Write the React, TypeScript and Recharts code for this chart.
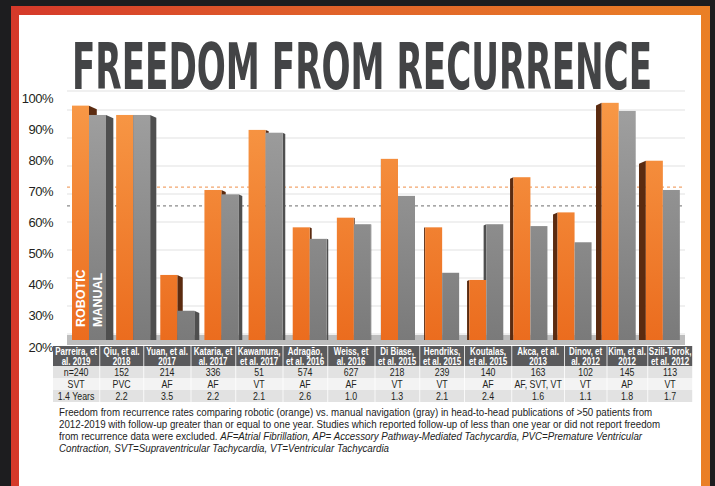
import React from "react";
import {
  BarChart,
  Bar,
  XAxis,
  YAxis,
  CartesianGrid,
  ReferenceLine,
  LabelList,
} from "recharts";

// Studies (table header, two lines each)
const studies = [
  "Parreira, et\nal. 2019",
  "Qiu, et al.\n2018",
  "Yuan, et al.\n2017",
  "Kataria, et\nal. 2017",
  "Kawamura,\net al. 2017",
  "Adragão,\net al. 2016",
  "Weiss, et\nal. 2016",
  "Di Biase,\net al. 2015",
  "Hendriks,\net al. 2015",
  "Koutalas,\net al. 2015",
  "Akca, et al.\n2013",
  "Dinov, et\nal. 2012",
  "Kim, et al.\n2012",
  "Szili-Torok,\net al. 2012",
];

// Freedom from recurrence (%)
const robotic = [95.3, 92.3, 40.9, 68.2, 87.5, 56.2, 59.3, 78.2, 56.2, 39.3, 72.3, 61.0, 96.2, 77.6];
const manual = [92.3, 92.3, 29.4, 66.8, 86.6, 52.5, 57.2, 66.3, 41.6, 57.2, 56.6, 51.4, 93.6, 68.2];

// dashed average lines
const roboticMean = 69.1;
const manualMean = 63.1;

// table rows
const patients = ["n=240", "152", "214", "336", "51", "574", "627", "218", "239", "140", "163", "102", "145", "113"];
const arrhythmias = ["SVT", "PVC", "AF", "AF", "VT", "AF", "AF", "VT", "VT", "AF", "AF, SVT, VT", "VT", "AP", "VT"];
const followUp = ["1.4 Years", "2.2", "3.5", "2.2", "2.1", "2.6", "1.0", "1.3", "2.1", "2.4", "1.6", "1.1", "1.8", "1.7"];

const valueTicks = [20, 30, 40, 50, 60, 70, 80, 90, 100];
// the gridlines sit on the back wall of the 3D chart, so they use a slightly different scale
const wallDomain = [17.86, 106.79];

const chartData = studies.map((s, i) => ({ study: s, robotic: robotic[i], manual: manual[i] }));

const CHART_W = 715;
const CHART_H = 360;
const MARGIN = { top: 91, right: 30, bottom: 10, left: 0 };

// table column widths (px), the Akca column is a bit wider
const colWidths = [47, 44, 47, 45, 47, 45, 47, 45, 45, 47, 53, 42, 41, 45];
const TABLE_SCALE = 0.8;

const VANISH_X = 385;
const sideDepth = (edge: number) => Math.min(9, Math.abs(edge - VANISH_X) / 38);

const make3DBar = (series: "robotic" | "manual") => (props: any) => {
  const { x, y, width, height, payload } = props;
  if (!height || height <= 0) return <g />;
  const front = series === "robotic" ? "url(#roboticFront)" : "url(#manualFront)";
  const sideFill = series === "robotic" ? "#5b2b10" : "#4f4f4f";
  const bottom = y + height;
  let side = null;
  if (x + width / 2 < VANISH_X) {
    const e = x + width;
    const d = sideDepth(e);
    side = (
      <polygon
        points={`${e},${y} ${e + d},${y + d * 0.45} ${e + d},${bottom} ${e},${bottom}`}
        fill={sideFill}
      />
    );
  } else {
    const e = x;
    const d = sideDepth(e);
    let stop = bottom;
    if (series === "manual") {
      // only the part standing above the orange bar is visible
      const per = height / (payload.manual - 20);
      stop = Math.min(bottom, bottom - (payload.robotic - 20) * per);
    }
    if (stop > y + d * 0.45) {
      side = (
        <polygon
          points={`${e},${y} ${e - d},${y + d * 0.45} ${e - d},${stop} ${e},${stop}`}
          fill={sideFill}
        />
      );
    }
  }
  return (
    <g>
      {side}
      <rect x={x} y={y} width={width} height={height} fill={front} />
    </g>
  );
};

const legendLabel = (text: string) => (props: any) => {
  if (props.index !== 0) return null;
  const vb = props.viewBox || props;
  const cx = vb.x + vb.width / 2;
  const by = vb.y + vb.height - 13;
  return (
    <text
      x={cx}
      y={by}
      dy="0.36em"
      transform={`rotate(-90 ${cx} ${by})`}
      fill="#ffffff"
      fontWeight="bold"
      fontSize={12.5}
      fontFamily="'Liberation Sans', Arial, sans-serif"
    >
      {text}
    </text>
  );
};

const PercentTick = (props: any) => {
  const { x, y, payload } = props;
  return (
    <text
      x={x - 6}
      y={y + 7}
      dy="0.35em"
      textAnchor="end"
      fontSize={13}
      letterSpacing={-0.5}
      fill="#231f20"
      fontFamily="'Liberation Sans', Arial, sans-serif"
    >
      {payload.value}%
    </text>
  );
};

const rowStyle = (bg: string, h: number): React.CSSProperties => ({
  display: "flex",
  background: bg,
  height: h,
  lineHeight: `${h}px`,
  fontSize: 11,
  color: "#231f20",
});

const cellStyle = (i: number): React.CSSProperties => ({
  width: colWidths[i] / TABLE_SCALE,
  flex: "none",
  boxSizing: "border-box",
  textAlign: "center",
  borderRight: "1px solid #ffffff",
  whiteSpace: "nowrap",
  overflow: "visible",
});

export default function App() {
  return (
    <div
      style={{
        position: "absolute",
        left: 0,
        top: 0,
        width: 715,
        height: 486,
        overflow: "hidden",
        background: "#1d1d1f",
        fontFamily: "'Liberation Sans', Arial, sans-serif",
      }}
    >
      {/* gradient frame */}
      <div
        style={{
          position: "absolute",
          left: 11,
          top: 6,
          width: 699,
          height: 480,
          background: "linear-gradient(90deg, #d5392a 0%, #e0612a 45%, #ea7f26 100%)",
        }}
      />
      <div style={{ position: "absolute", left: 19, top: 15, width: 682, height: 471, background: "#ffffff" }} />

      {/* title: a tall, narrow headline */}
      <div
        style={{
          position: "absolute",
          left: 72,
          top: 35,
          width: 600,
          fontFamily: "'DejaVu Sans Condensed', 'DejaVu Sans', sans-serif",
          fontWeight: "bold",
          fontSize: 38,
          lineHeight: "38px",
          color: "#434446",
          whiteSpace: "nowrap",
          transform: "scaleY(1.7)",
          transformOrigin: "0 0",
        }}
      >
        FREEDOM FROM RECURRENCE
      </div>

      {/* back layer: wall gridlines, average lines, floor and value axis */}
      <div style={{ position: "absolute", left: 0, top: 0 }}>
        <BarChart width={CHART_W} height={CHART_H} data={chartData} margin={MARGIN} barSize={17} barGap={0}>
          <YAxis yAxisId="wall" hide domain={wallDomain} ticks={valueTicks} allowDataOverflow />
          <CartesianGrid yAxisId="wall" vertical={false} stroke="#e2e2e2" strokeWidth={1.2} />
          <XAxis
            dataKey="study"
            tick={false}
            tickLine={false}
            height={10}
            axisLine={{ stroke: "#bdbdbd", strokeWidth: 10 }}
          />
          <YAxis
            domain={[20, 100]}
            ticks={valueTicks}
            width={67}
            axisLine={false}
            tickLine={false}
            tick={<PercentTick />}
            allowDataOverflow
          />
          <ReferenceLine y={roboticMean} stroke="#f2a56e" strokeDasharray="3 3" strokeWidth={1.2} />
          <ReferenceLine y={manualMean} stroke="#8a8a8a" strokeDasharray="3 3" strokeWidth={1.2} />
        </BarChart>
      </div>

      {/* front layer: the bars */}
      <div style={{ position: "absolute", left: 0, top: 0 }}>
        <BarChart width={CHART_W} height={CHART_H} data={chartData} margin={MARGIN} barSize={17} barGap={0}>
          <defs>
            <linearGradient id="roboticFront" gradientUnits="userSpaceOnUse" x1="0" y1="91" x2="0" y2="340">
              <stop offset="0%" stopColor="#f89a48" />
              <stop offset="100%" stopColor="#eb6c1e" />
            </linearGradient>
            <linearGradient id="manualFront" gradientUnits="userSpaceOnUse" x1="0" y1="91" x2="0" y2="340">
              <stop offset="0%" stopColor="#a2a2a2" />
              <stop offset="100%" stopColor="#7a7a7a" />
            </linearGradient>
          </defs>
          <XAxis dataKey="study" tick={false} tickLine={false} axisLine={false} height={10} />
          <YAxis domain={[20, 100]} width={67} tick={false} tickLine={false} axisLine={false} allowDataOverflow />
          <Bar dataKey="robotic" shape={make3DBar("robotic")} isAnimationActive={false}>
            <LabelList dataKey="robotic" content={legendLabel("ROBOTIC")} />
          </Bar>
          <Bar dataKey="manual" shape={make3DBar("manual")} isAnimationActive={false}>
            <LabelList dataKey="manual" content={legendLabel("MANUAL")} />
          </Bar>
        </BarChart>
      </div>

      {/* study table */}
      <div
        style={{
          position: "absolute",
          left: 53,
          top: 346,
          width: 640 / TABLE_SCALE,
          transform: `scaleX(${TABLE_SCALE})`,
          transformOrigin: "0 0",
        }}
      >
        <div style={{ display: "flex", background: "#5a5a5c", height: 20 }}>
          {studies.map((s, i) => (
            <div
              key={s}
              style={{
                ...cellStyle(i),
                color: "#ffffff",
                fontWeight: "bold",
                fontSize: 10,
                lineHeight: "9.5px",
                paddingTop: 1,
                whiteSpace: "pre",
              }}
            >
              {s}
            </div>
          ))}
        </div>
        <div style={rowStyle("#e2e2e2", 12)}>
          {patients.map((v, i) => (
            <div key={i} style={cellStyle(i)}>{v}</div>
          ))}
        </div>
        <div style={rowStyle("#f3f3f3", 12)}>
          {arrhythmias.map((v, i) => (
            <div key={i} style={cellStyle(i)}>{v}</div>
          ))}
        </div>
        <div style={rowStyle("#e2e2e2", 12)}>
          {followUp.map((v, i) => (
            <div key={i} style={cellStyle(i)}>{v}</div>
          ))}
        </div>
      </div>

      {/* caption */}
      <div
        style={{
          position: "absolute",
          left: 59,
          top: 406,
          width: 700,
          fontSize: 11.2,
          lineHeight: "12px",
          color: "#222222",
          whiteSpace: "nowrap",
          transform: "scaleX(0.87)",
          transformOrigin: "0 0",
        }}
      >
        <div>
          Freedom from recurrence rates comparing robotic (orange) vs. manual navigation (gray) in head-to-head
          publications of &gt;50 patients from
        </div>
        <div>
          2012-2019 with follow-up greater than or equal to one year. Studies which reported follow-up of less than one
          year or did not report freedom
        </div>
        <div>
          from recurrence data were excluded.{" "}
          <i>
            AF=Atrial Fibrillation, AP= Accessory Pathway-Mediated Tachycardia, PVC=Premature Ventricular
          </i>
        </div>
        <div>
          <i>Contraction, SVT=Supraventricular Tachycardia, VT=Ventricular Tachycardia</i>
        </div>
      </div>
    </div>
  );
}
